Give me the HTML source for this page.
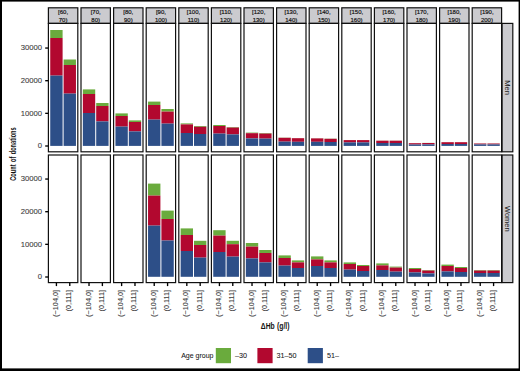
<!DOCTYPE html>
<html lang="en"><head><meta charset="utf-8"><title>Count of donations by ΔHb</title>
<style>html,body{margin:0;padding:0;background:#fff}body{width:520px;height:371px;overflow:hidden}svg{display:block}svg text{stroke:#111;stroke-width:.18px}svg text.lg{fill:#151515;stroke:#151515;stroke-width:.06px}svg text.rs{fill:#1a1a1a;stroke:none}svg text.ax{fill:#3a3a3a;stroke:#3a3a3a;stroke-width:.08px}</style></head>
<body>
<svg width="520" height="371" viewBox="0 0 520 371" font-family="'Liberation Sans', Arial, Helvetica, sans-serif" fill="#111">
<rect x="0" y="0" width="520" height="371" fill="#fff"/>
<rect x="48.4" y="7.8" width="29.4" height="15.6" fill="#cbcbcf" stroke="#111" stroke-width="1.2"/>
<text x="63.1" y="14.2" font-size="6.0" text-anchor="middle">[60,</text>
<text x="63.1" y="21.7" font-size="6.0" text-anchor="middle">70)</text>
<rect x="50.24" y="30" width="12.36" height="8" fill="#6aab3d"/>
<rect x="50.24" y="38" width="12.36" height="37.6" fill="#b2082f"/>
<rect x="50.24" y="75.6" width="12.36" height="70.3" fill="#2d4f88"/>
<rect x="63.6" y="59.5" width="12.36" height="5.5" fill="#6aab3d"/>
<rect x="63.6" y="65" width="12.36" height="28.6" fill="#b2082f"/>
<rect x="63.6" y="93.6" width="12.36" height="52.3" fill="#2d4f88"/>
<rect x="48.4" y="23.4" width="29.4" height="128.4" fill="none" stroke="#111" stroke-width="1.2"/>
<rect x="48.4" y="155" width="29.4" height="127.6" fill="none" stroke="#111" stroke-width="1.2"/>
<line x1="56.42" x2="56.42" y1="282.6" y2="286.1" stroke="#000" stroke-width="1.35"/>
<text transform="translate(57.92,289.9) rotate(-90)" font-size="7.3" text-anchor="end" class="ax">(−104,0]</text>
<line x1="69.78" x2="69.78" y1="282.6" y2="286.1" stroke="#000" stroke-width="1.35"/>
<text transform="translate(71.28,289.9) rotate(-90)" font-size="7.3" text-anchor="end" class="ax">(0,111]</text>
<rect x="81" y="7.8" width="29.4" height="15.6" fill="#cbcbcf" stroke="#111" stroke-width="1.2"/>
<text x="95.7" y="14.2" font-size="6.0" text-anchor="middle">[70,</text>
<text x="95.7" y="21.7" font-size="6.0" text-anchor="middle">80)</text>
<rect x="82.84" y="89.4" width="12.36" height="4.6" fill="#6aab3d"/>
<rect x="82.84" y="94" width="12.36" height="19" fill="#b2082f"/>
<rect x="82.84" y="113" width="12.36" height="32.9" fill="#2d4f88"/>
<rect x="96.2" y="103" width="12.36" height="3" fill="#6aab3d"/>
<rect x="96.2" y="106" width="12.36" height="15.4" fill="#b2082f"/>
<rect x="96.2" y="121.4" width="12.36" height="24.5" fill="#2d4f88"/>
<rect x="81" y="23.4" width="29.4" height="128.4" fill="none" stroke="#111" stroke-width="1.2"/>
<rect x="81" y="155" width="29.4" height="127.6" fill="none" stroke="#111" stroke-width="1.2"/>
<line x1="89.02" x2="89.02" y1="282.6" y2="286.1" stroke="#000" stroke-width="1.35"/>
<text transform="translate(90.52,289.9) rotate(-90)" font-size="7.3" text-anchor="end" class="ax">(−104,0]</text>
<line x1="102.38" x2="102.38" y1="282.6" y2="286.1" stroke="#000" stroke-width="1.35"/>
<text transform="translate(103.88,289.9) rotate(-90)" font-size="7.3" text-anchor="end" class="ax">(0,111]</text>
<rect x="113.6" y="7.8" width="29.4" height="15.6" fill="#cbcbcf" stroke="#111" stroke-width="1.2"/>
<text x="128.3" y="14.2" font-size="6.0" text-anchor="middle">[80,</text>
<text x="128.3" y="21.7" font-size="6.0" text-anchor="middle">90)</text>
<rect x="115.44" y="113.4" width="12.36" height="2.6" fill="#6aab3d"/>
<rect x="115.44" y="116" width="12.36" height="10.6" fill="#b2082f"/>
<rect x="115.44" y="126.6" width="12.36" height="19.3" fill="#2d4f88"/>
<rect x="128.8" y="120.4" width="12.36" height="1.6" fill="#6aab3d"/>
<rect x="128.8" y="122" width="12.36" height="9.4" fill="#b2082f"/>
<rect x="128.8" y="131.4" width="12.36" height="14.5" fill="#2d4f88"/>
<rect x="113.6" y="23.4" width="29.4" height="128.4" fill="none" stroke="#111" stroke-width="1.2"/>
<rect x="113.6" y="155" width="29.4" height="127.6" fill="none" stroke="#111" stroke-width="1.2"/>
<line x1="121.62" x2="121.62" y1="282.6" y2="286.1" stroke="#000" stroke-width="1.35"/>
<text transform="translate(123.12,289.9) rotate(-90)" font-size="7.3" text-anchor="end" class="ax">(−104,0]</text>
<line x1="134.98" x2="134.98" y1="282.6" y2="286.1" stroke="#000" stroke-width="1.35"/>
<text transform="translate(136.48,289.9) rotate(-90)" font-size="7.3" text-anchor="end" class="ax">(0,111]</text>
<rect x="146.2" y="7.8" width="29.4" height="15.6" fill="#cbcbcf" stroke="#111" stroke-width="1.2"/>
<text x="160.9" y="14.2" font-size="6.0" text-anchor="middle">[90,</text>
<text x="160.9" y="21.7" font-size="6.0" text-anchor="middle">100)</text>
<rect x="148.04" y="101.6" width="12.36" height="3.4" fill="#6aab3d"/>
<rect x="148.04" y="105" width="12.36" height="14.6" fill="#b2082f"/>
<rect x="148.04" y="119.6" width="12.36" height="26.3" fill="#2d4f88"/>
<rect x="161.4" y="109" width="12.36" height="2.6" fill="#6aab3d"/>
<rect x="161.4" y="111.6" width="12.36" height="12" fill="#b2082f"/>
<rect x="161.4" y="123.6" width="12.36" height="22.3" fill="#2d4f88"/>
<rect x="148.04" y="183.6" width="12.36" height="12" fill="#6aab3d"/>
<rect x="148.04" y="195.6" width="12.36" height="30" fill="#b2082f"/>
<rect x="148.04" y="225.6" width="12.36" height="51.2" fill="#2d4f88"/>
<rect x="161.4" y="210.6" width="12.36" height="8.4" fill="#6aab3d"/>
<rect x="161.4" y="219" width="12.36" height="21.5" fill="#b2082f"/>
<rect x="161.4" y="240.5" width="12.36" height="36.3" fill="#2d4f88"/>
<rect x="146.2" y="23.4" width="29.4" height="128.4" fill="none" stroke="#111" stroke-width="1.2"/>
<rect x="146.2" y="155" width="29.4" height="127.6" fill="none" stroke="#111" stroke-width="1.2"/>
<line x1="154.22" x2="154.22" y1="282.6" y2="286.1" stroke="#000" stroke-width="1.35"/>
<text transform="translate(155.72,289.9) rotate(-90)" font-size="7.3" text-anchor="end" class="ax">(−104,0]</text>
<line x1="167.58" x2="167.58" y1="282.6" y2="286.1" stroke="#000" stroke-width="1.35"/>
<text transform="translate(169.08,289.9) rotate(-90)" font-size="7.3" text-anchor="end" class="ax">(0,111]</text>
<rect x="178.8" y="7.8" width="29.4" height="15.6" fill="#cbcbcf" stroke="#111" stroke-width="1.2"/>
<text x="193.5" y="14.2" font-size="6.0" text-anchor="middle">[100,</text>
<text x="193.5" y="21.7" font-size="6.0" text-anchor="middle">110)</text>
<rect x="180.64" y="123.4" width="12.36" height="1" fill="#6aab3d"/>
<rect x="180.64" y="124.4" width="12.36" height="8.6" fill="#b2082f"/>
<rect x="180.64" y="133" width="12.36" height="12.9" fill="#2d4f88"/>
<rect x="194" y="126" width="12.36" height="0.8" fill="#6aab3d"/>
<rect x="194" y="126.8" width="12.36" height="7.2" fill="#b2082f"/>
<rect x="194" y="134" width="12.36" height="11.9" fill="#2d4f88"/>
<rect x="180.64" y="228.4" width="12.36" height="6.6" fill="#6aab3d"/>
<rect x="180.64" y="235" width="12.36" height="16" fill="#b2082f"/>
<rect x="180.64" y="251" width="12.36" height="25.8" fill="#2d4f88"/>
<rect x="194" y="240.8" width="12.36" height="4.2" fill="#6aab3d"/>
<rect x="194" y="245" width="12.36" height="12.6" fill="#b2082f"/>
<rect x="194" y="257.6" width="12.36" height="19.2" fill="#2d4f88"/>
<rect x="178.8" y="23.4" width="29.4" height="128.4" fill="none" stroke="#111" stroke-width="1.2"/>
<rect x="178.8" y="155" width="29.4" height="127.6" fill="none" stroke="#111" stroke-width="1.2"/>
<line x1="186.82" x2="186.82" y1="282.6" y2="286.1" stroke="#000" stroke-width="1.35"/>
<text transform="translate(188.32,289.9) rotate(-90)" font-size="7.3" text-anchor="end" class="ax">(−104,0]</text>
<line x1="200.18" x2="200.18" y1="282.6" y2="286.1" stroke="#000" stroke-width="1.35"/>
<text transform="translate(201.68,289.9) rotate(-90)" font-size="7.3" text-anchor="end" class="ax">(0,111]</text>
<rect x="211.4" y="7.8" width="29.4" height="15.6" fill="#cbcbcf" stroke="#111" stroke-width="1.2"/>
<text x="226.1" y="14.2" font-size="6.0" text-anchor="middle">[110,</text>
<text x="226.1" y="21.7" font-size="6.0" text-anchor="middle">120)</text>
<rect x="213.24" y="125" width="12.36" height="1" fill="#6aab3d"/>
<rect x="213.24" y="126" width="12.36" height="7.6" fill="#b2082f"/>
<rect x="213.24" y="133.6" width="12.36" height="12.3" fill="#2d4f88"/>
<rect x="226.6" y="127" width="12.36" height="0.6" fill="#6aab3d"/>
<rect x="226.6" y="127.6" width="12.36" height="6.8" fill="#b2082f"/>
<rect x="226.6" y="134.4" width="12.36" height="11.5" fill="#2d4f88"/>
<rect x="213.24" y="230.2" width="12.36" height="5.4" fill="#6aab3d"/>
<rect x="213.24" y="235.6" width="12.36" height="16.4" fill="#b2082f"/>
<rect x="213.24" y="252" width="12.36" height="24.8" fill="#2d4f88"/>
<rect x="226.6" y="240.8" width="12.36" height="3.4" fill="#6aab3d"/>
<rect x="226.6" y="244.2" width="12.36" height="12.4" fill="#b2082f"/>
<rect x="226.6" y="256.6" width="12.36" height="20.2" fill="#2d4f88"/>
<rect x="211.4" y="23.4" width="29.4" height="128.4" fill="none" stroke="#111" stroke-width="1.2"/>
<rect x="211.4" y="155" width="29.4" height="127.6" fill="none" stroke="#111" stroke-width="1.2"/>
<line x1="219.42" x2="219.42" y1="282.6" y2="286.1" stroke="#000" stroke-width="1.35"/>
<text transform="translate(220.92,289.9) rotate(-90)" font-size="7.3" text-anchor="end" class="ax">(−104,0]</text>
<line x1="232.78" x2="232.78" y1="282.6" y2="286.1" stroke="#000" stroke-width="1.35"/>
<text transform="translate(234.28,289.9) rotate(-90)" font-size="7.3" text-anchor="end" class="ax">(0,111]</text>
<rect x="244" y="7.8" width="29.4" height="15.6" fill="#cbcbcf" stroke="#111" stroke-width="1.2"/>
<text x="258.7" y="14.2" font-size="6.0" text-anchor="middle">[120,</text>
<text x="258.7" y="21.7" font-size="6.0" text-anchor="middle">130)</text>
<rect x="245.84" y="132.6" width="12.36" height="0.6" fill="#6aab3d"/>
<rect x="245.84" y="133.2" width="12.36" height="5.2" fill="#b2082f"/>
<rect x="245.84" y="138.4" width="12.36" height="7.5" fill="#2d4f88"/>
<rect x="259.2" y="133" width="12.36" height="0.6" fill="#6aab3d"/>
<rect x="259.2" y="133.6" width="12.36" height="5" fill="#b2082f"/>
<rect x="259.2" y="138.6" width="12.36" height="7.3" fill="#2d4f88"/>
<rect x="245.84" y="243" width="12.36" height="3.6" fill="#6aab3d"/>
<rect x="245.84" y="246.6" width="12.36" height="11.8" fill="#b2082f"/>
<rect x="245.84" y="258.4" width="12.36" height="18.4" fill="#2d4f88"/>
<rect x="259.2" y="250" width="12.36" height="3" fill="#6aab3d"/>
<rect x="259.2" y="253" width="12.36" height="9.4" fill="#b2082f"/>
<rect x="259.2" y="262.4" width="12.36" height="14.4" fill="#2d4f88"/>
<rect x="244" y="23.4" width="29.4" height="128.4" fill="none" stroke="#111" stroke-width="1.2"/>
<rect x="244" y="155" width="29.4" height="127.6" fill="none" stroke="#111" stroke-width="1.2"/>
<line x1="252.02" x2="252.02" y1="282.6" y2="286.1" stroke="#000" stroke-width="1.35"/>
<text transform="translate(253.52,289.9) rotate(-90)" font-size="7.3" text-anchor="end" class="ax">(−104,0]</text>
<line x1="265.38" x2="265.38" y1="282.6" y2="286.1" stroke="#000" stroke-width="1.35"/>
<text transform="translate(266.88,289.9) rotate(-90)" font-size="7.3" text-anchor="end" class="ax">(0,111]</text>
<rect x="276.6" y="7.8" width="29.4" height="15.6" fill="#cbcbcf" stroke="#111" stroke-width="1.2"/>
<text x="291.3" y="14.2" font-size="6.0" text-anchor="middle">[130,</text>
<text x="291.3" y="21.7" font-size="6.0" text-anchor="middle">140)</text>
<rect x="278.44" y="137.6" width="12.36" height="0.2" fill="#6aab3d"/>
<rect x="278.44" y="137.8" width="12.36" height="3.8" fill="#b2082f"/>
<rect x="278.44" y="141.6" width="12.36" height="4.3" fill="#2d4f88"/>
<rect x="291.8" y="138" width="12.36" height="0.2" fill="#6aab3d"/>
<rect x="291.8" y="138.2" width="12.36" height="3.6" fill="#b2082f"/>
<rect x="291.8" y="141.8" width="12.36" height="4.1" fill="#2d4f88"/>
<rect x="278.44" y="255.4" width="12.36" height="2.6" fill="#6aab3d"/>
<rect x="278.44" y="258" width="12.36" height="7.6" fill="#b2082f"/>
<rect x="278.44" y="265.6" width="12.36" height="11.2" fill="#2d4f88"/>
<rect x="291.8" y="260.4" width="12.36" height="2" fill="#6aab3d"/>
<rect x="291.8" y="262.4" width="12.36" height="5.6" fill="#b2082f"/>
<rect x="291.8" y="268" width="12.36" height="8.8" fill="#2d4f88"/>
<rect x="276.6" y="23.4" width="29.4" height="128.4" fill="none" stroke="#111" stroke-width="1.2"/>
<rect x="276.6" y="155" width="29.4" height="127.6" fill="none" stroke="#111" stroke-width="1.2"/>
<line x1="284.62" x2="284.62" y1="282.6" y2="286.1" stroke="#000" stroke-width="1.35"/>
<text transform="translate(286.12,289.9) rotate(-90)" font-size="7.3" text-anchor="end" class="ax">(−104,0]</text>
<line x1="297.98" x2="297.98" y1="282.6" y2="286.1" stroke="#000" stroke-width="1.35"/>
<text transform="translate(299.48,289.9) rotate(-90)" font-size="7.3" text-anchor="end" class="ax">(0,111]</text>
<rect x="309.2" y="7.8" width="29.4" height="15.6" fill="#cbcbcf" stroke="#111" stroke-width="1.2"/>
<text x="323.9" y="14.2" font-size="6.0" text-anchor="middle">[140,</text>
<text x="323.9" y="21.7" font-size="6.0" text-anchor="middle">150)</text>
<rect x="311.04" y="138.2" width="12.36" height="0.2" fill="#6aab3d"/>
<rect x="311.04" y="138.4" width="12.36" height="3.4" fill="#b2082f"/>
<rect x="311.04" y="141.8" width="12.36" height="4.1" fill="#2d4f88"/>
<rect x="324.4" y="138.6" width="12.36" height="0.2" fill="#6aab3d"/>
<rect x="324.4" y="138.8" width="12.36" height="3.2" fill="#b2082f"/>
<rect x="324.4" y="142" width="12.36" height="3.9" fill="#2d4f88"/>
<rect x="311.04" y="256.4" width="12.36" height="3" fill="#6aab3d"/>
<rect x="311.04" y="259.4" width="12.36" height="6.6" fill="#b2082f"/>
<rect x="311.04" y="266" width="12.36" height="10.8" fill="#2d4f88"/>
<rect x="324.4" y="260.4" width="12.36" height="2" fill="#6aab3d"/>
<rect x="324.4" y="262.4" width="12.36" height="5.6" fill="#b2082f"/>
<rect x="324.4" y="268" width="12.36" height="8.8" fill="#2d4f88"/>
<rect x="309.2" y="23.4" width="29.4" height="128.4" fill="none" stroke="#111" stroke-width="1.2"/>
<rect x="309.2" y="155" width="29.4" height="127.6" fill="none" stroke="#111" stroke-width="1.2"/>
<line x1="317.22" x2="317.22" y1="282.6" y2="286.1" stroke="#000" stroke-width="1.35"/>
<text transform="translate(318.72,289.9) rotate(-90)" font-size="7.3" text-anchor="end" class="ax">(−104,0]</text>
<line x1="330.58" x2="330.58" y1="282.6" y2="286.1" stroke="#000" stroke-width="1.35"/>
<text transform="translate(332.08,289.9) rotate(-90)" font-size="7.3" text-anchor="end" class="ax">(0,111]</text>
<rect x="341.8" y="7.8" width="29.4" height="15.6" fill="#cbcbcf" stroke="#111" stroke-width="1.2"/>
<text x="356.5" y="14.2" font-size="6.0" text-anchor="middle">[150,</text>
<text x="356.5" y="21.7" font-size="6.0" text-anchor="middle">160)</text>
<rect x="343.64" y="140" width="12.36" height="0.1" fill="#6aab3d"/>
<rect x="343.64" y="140.1" width="12.36" height="2.3" fill="#b2082f"/>
<rect x="343.64" y="142.4" width="12.36" height="3.5" fill="#2d4f88"/>
<rect x="357" y="140" width="12.36" height="0.1" fill="#6aab3d"/>
<rect x="357" y="140.1" width="12.36" height="2.3" fill="#b2082f"/>
<rect x="357" y="142.4" width="12.36" height="3.5" fill="#2d4f88"/>
<rect x="343.64" y="262.4" width="12.36" height="1.6" fill="#6aab3d"/>
<rect x="343.64" y="264" width="12.36" height="5.6" fill="#b2082f"/>
<rect x="343.64" y="269.6" width="12.36" height="7.2" fill="#2d4f88"/>
<rect x="357" y="265" width="12.36" height="1" fill="#6aab3d"/>
<rect x="357" y="266" width="12.36" height="5" fill="#b2082f"/>
<rect x="357" y="271" width="12.36" height="5.8" fill="#2d4f88"/>
<rect x="341.8" y="23.4" width="29.4" height="128.4" fill="none" stroke="#111" stroke-width="1.2"/>
<rect x="341.8" y="155" width="29.4" height="127.6" fill="none" stroke="#111" stroke-width="1.2"/>
<line x1="349.82" x2="349.82" y1="282.6" y2="286.1" stroke="#000" stroke-width="1.35"/>
<text transform="translate(351.32,289.9) rotate(-90)" font-size="7.3" text-anchor="end" class="ax">(−104,0]</text>
<line x1="363.18" x2="363.18" y1="282.6" y2="286.1" stroke="#000" stroke-width="1.35"/>
<text transform="translate(364.68,289.9) rotate(-90)" font-size="7.3" text-anchor="end" class="ax">(0,111]</text>
<rect x="374.4" y="7.8" width="29.4" height="15.6" fill="#cbcbcf" stroke="#111" stroke-width="1.2"/>
<text x="389.1" y="14.2" font-size="6.0" text-anchor="middle">[160,</text>
<text x="389.1" y="21.7" font-size="6.0" text-anchor="middle">170)</text>
<rect x="376.24" y="140.6" width="12.36" height="0.1" fill="#6aab3d"/>
<rect x="376.24" y="140.7" width="12.36" height="2.3" fill="#b2082f"/>
<rect x="376.24" y="143" width="12.36" height="2.9" fill="#2d4f88"/>
<rect x="389.6" y="140.6" width="12.36" height="0.1" fill="#6aab3d"/>
<rect x="389.6" y="140.7" width="12.36" height="2.3" fill="#b2082f"/>
<rect x="389.6" y="143" width="12.36" height="2.9" fill="#2d4f88"/>
<rect x="376.24" y="263.4" width="12.36" height="2" fill="#6aab3d"/>
<rect x="376.24" y="265.4" width="12.36" height="4.6" fill="#b2082f"/>
<rect x="376.24" y="270" width="12.36" height="6.8" fill="#2d4f88"/>
<rect x="389.6" y="266.6" width="12.36" height="1" fill="#6aab3d"/>
<rect x="389.6" y="267.6" width="12.36" height="4" fill="#b2082f"/>
<rect x="389.6" y="271.6" width="12.36" height="5.2" fill="#2d4f88"/>
<rect x="374.4" y="23.4" width="29.4" height="128.4" fill="none" stroke="#111" stroke-width="1.2"/>
<rect x="374.4" y="155" width="29.4" height="127.6" fill="none" stroke="#111" stroke-width="1.2"/>
<line x1="382.42" x2="382.42" y1="282.6" y2="286.1" stroke="#000" stroke-width="1.35"/>
<text transform="translate(383.92,289.9) rotate(-90)" font-size="7.3" text-anchor="end" class="ax">(−104,0]</text>
<line x1="395.78" x2="395.78" y1="282.6" y2="286.1" stroke="#000" stroke-width="1.35"/>
<text transform="translate(397.28,289.9) rotate(-90)" font-size="7.3" text-anchor="end" class="ax">(0,111]</text>
<rect x="407" y="7.8" width="29.4" height="15.6" fill="#cbcbcf" stroke="#111" stroke-width="1.2"/>
<text x="421.7" y="14.2" font-size="6.0" text-anchor="middle">[170,</text>
<text x="421.7" y="21.7" font-size="6.0" text-anchor="middle">180)</text>
<rect x="408.84" y="143.1" width="12.36" height="0.1" fill="#6aab3d"/>
<rect x="408.84" y="143.2" width="12.36" height="1.3" fill="#b2082f"/>
<rect x="408.84" y="144.5" width="12.36" height="1.4" fill="#2d4f88"/>
<rect x="422.2" y="142.9" width="12.36" height="0.1" fill="#6aab3d"/>
<rect x="422.2" y="143" width="12.36" height="1.4" fill="#b2082f"/>
<rect x="422.2" y="144.4" width="12.36" height="1.5" fill="#2d4f88"/>
<rect x="408.84" y="268" width="12.36" height="1" fill="#6aab3d"/>
<rect x="408.84" y="269" width="12.36" height="3.4" fill="#b2082f"/>
<rect x="408.84" y="272.4" width="12.36" height="4.4" fill="#2d4f88"/>
<rect x="422.2" y="270" width="12.36" height="0.6" fill="#6aab3d"/>
<rect x="422.2" y="270.6" width="12.36" height="2.8" fill="#b2082f"/>
<rect x="422.2" y="273.4" width="12.36" height="3.4" fill="#2d4f88"/>
<rect x="407" y="23.4" width="29.4" height="128.4" fill="none" stroke="#111" stroke-width="1.2"/>
<rect x="407" y="155" width="29.4" height="127.6" fill="none" stroke="#111" stroke-width="1.2"/>
<line x1="415.02" x2="415.02" y1="282.6" y2="286.1" stroke="#000" stroke-width="1.35"/>
<text transform="translate(416.52,289.9) rotate(-90)" font-size="7.3" text-anchor="end" class="ax">(−104,0]</text>
<line x1="428.38" x2="428.38" y1="282.6" y2="286.1" stroke="#000" stroke-width="1.35"/>
<text transform="translate(429.88,289.9) rotate(-90)" font-size="7.3" text-anchor="end" class="ax">(0,111]</text>
<rect x="439.6" y="7.8" width="29.4" height="15.6" fill="#cbcbcf" stroke="#111" stroke-width="1.2"/>
<text x="454.3" y="14.2" font-size="6.0" text-anchor="middle">[180,</text>
<text x="454.3" y="21.7" font-size="6.0" text-anchor="middle">190)</text>
<rect x="441.44" y="142.1" width="12.36" height="0.1" fill="#6aab3d"/>
<rect x="441.44" y="142.2" width="12.36" height="1.8" fill="#b2082f"/>
<rect x="441.44" y="144" width="12.36" height="1.9" fill="#2d4f88"/>
<rect x="454.8" y="142.1" width="12.36" height="0.1" fill="#6aab3d"/>
<rect x="454.8" y="142.2" width="12.36" height="1.8" fill="#b2082f"/>
<rect x="454.8" y="144" width="12.36" height="1.9" fill="#2d4f88"/>
<rect x="441.44" y="264.6" width="12.36" height="1.4" fill="#6aab3d"/>
<rect x="441.44" y="266" width="12.36" height="5.4" fill="#b2082f"/>
<rect x="441.44" y="271.4" width="12.36" height="5.4" fill="#2d4f88"/>
<rect x="454.8" y="267" width="12.36" height="1" fill="#6aab3d"/>
<rect x="454.8" y="268" width="12.36" height="4" fill="#b2082f"/>
<rect x="454.8" y="272" width="12.36" height="4.8" fill="#2d4f88"/>
<rect x="439.6" y="23.4" width="29.4" height="128.4" fill="none" stroke="#111" stroke-width="1.2"/>
<rect x="439.6" y="155" width="29.4" height="127.6" fill="none" stroke="#111" stroke-width="1.2"/>
<line x1="447.62" x2="447.62" y1="282.6" y2="286.1" stroke="#000" stroke-width="1.35"/>
<text transform="translate(449.12,289.9) rotate(-90)" font-size="7.3" text-anchor="end" class="ax">(−104,0]</text>
<line x1="460.98" x2="460.98" y1="282.6" y2="286.1" stroke="#000" stroke-width="1.35"/>
<text transform="translate(462.48,289.9) rotate(-90)" font-size="7.3" text-anchor="end" class="ax">(0,111]</text>
<rect x="472.2" y="7.8" width="29.4" height="15.6" fill="#cbcbcf" stroke="#111" stroke-width="1.2"/>
<text x="486.9" y="14.2" font-size="6.0" text-anchor="middle">[190,</text>
<text x="486.9" y="21.7" font-size="6.0" text-anchor="middle">200)</text>
<rect x="474.04" y="143.4" width="12.36" height="0.1" fill="#6aab3d"/>
<rect x="474.04" y="143.5" width="12.36" height="0.9" fill="#b2082f"/>
<rect x="474.04" y="144.4" width="12.36" height="1.5" fill="#2d4f88"/>
<rect x="487.4" y="143.4" width="12.36" height="0.1" fill="#6aab3d"/>
<rect x="487.4" y="143.5" width="12.36" height="0.9" fill="#b2082f"/>
<rect x="487.4" y="144.4" width="12.36" height="1.5" fill="#2d4f88"/>
<rect x="474.04" y="270" width="12.36" height="0.6" fill="#6aab3d"/>
<rect x="474.04" y="270.6" width="12.36" height="2.4" fill="#b2082f"/>
<rect x="474.04" y="273" width="12.36" height="3.8" fill="#2d4f88"/>
<rect x="487.4" y="270" width="12.36" height="0.6" fill="#6aab3d"/>
<rect x="487.4" y="270.6" width="12.36" height="2.4" fill="#b2082f"/>
<rect x="487.4" y="273" width="12.36" height="3.8" fill="#2d4f88"/>
<rect x="472.2" y="23.4" width="29.4" height="128.4" fill="none" stroke="#111" stroke-width="1.2"/>
<rect x="472.2" y="155" width="29.4" height="127.6" fill="none" stroke="#111" stroke-width="1.2"/>
<line x1="480.22" x2="480.22" y1="282.6" y2="286.1" stroke="#000" stroke-width="1.35"/>
<text transform="translate(481.72,289.9) rotate(-90)" font-size="7.3" text-anchor="end" class="ax">(−104,0]</text>
<line x1="493.58" x2="493.58" y1="282.6" y2="286.1" stroke="#000" stroke-width="1.35"/>
<text transform="translate(495.08,289.9) rotate(-90)" font-size="7.3" text-anchor="end" class="ax">(0,111]</text>
<rect x="502.1" y="23.4" width="10.7" height="128.4" fill="#cbcbcf" stroke="#111" stroke-width="1.2"/>
<text transform="translate(505.4,87.6) rotate(90)" font-size="7.5" text-anchor="middle" class="rs">Men</text>
<rect x="502.1" y="155" width="10.7" height="127.6" fill="#cbcbcf" stroke="#111" stroke-width="1.2"/>
<text transform="translate(505.4,218.8) rotate(90)" font-size="7.5" text-anchor="middle" class="rs">Women</text>
<line x1="45.2" x2="48.4" y1="146" y2="146" stroke="#000" stroke-width="1.35"/>
<text x="42.1" y="148.4" font-size="7.7" text-anchor="end" class="ax">0</text>
<line x1="45.2" x2="48.4" y1="113.35" y2="113.35" stroke="#000" stroke-width="1.35"/>
<text x="42.1" y="115.75" font-size="7.7" text-anchor="end" class="ax">10000</text>
<line x1="45.2" x2="48.4" y1="80.7" y2="80.7" stroke="#000" stroke-width="1.35"/>
<text x="42.1" y="83.1" font-size="7.7" text-anchor="end" class="ax">20000</text>
<line x1="45.2" x2="48.4" y1="48.05" y2="48.05" stroke="#000" stroke-width="1.35"/>
<text x="42.1" y="50.45" font-size="7.7" text-anchor="end" class="ax">30000</text>
<line x1="45.2" x2="48.4" y1="277" y2="277" stroke="#000" stroke-width="1.35"/>
<text x="42.1" y="279.4" font-size="7.7" text-anchor="end" class="ax">0</text>
<line x1="45.2" x2="48.4" y1="244.35" y2="244.35" stroke="#000" stroke-width="1.35"/>
<text x="42.1" y="246.75" font-size="7.7" text-anchor="end" class="ax">10000</text>
<line x1="45.2" x2="48.4" y1="211.7" y2="211.7" stroke="#000" stroke-width="1.35"/>
<text x="42.1" y="214.1" font-size="7.7" text-anchor="end" class="ax">20000</text>
<line x1="45.2" x2="48.4" y1="179.05" y2="179.05" stroke="#000" stroke-width="1.35"/>
<text x="42.1" y="181.45" font-size="7.7" text-anchor="end" class="ax">30000</text>
<text transform="translate(16.1,154) rotate(-90) scale(0.66,1)" font-size="8.6" font-weight="bold" text-anchor="middle" word-spacing="1.2" fill="#111" style="stroke:none">Count of donations</text>
<text transform="translate(275.1,328.5) scale(0.76,1)" font-size="8.9" font-weight="bold" text-anchor="middle" word-spacing="0.6" fill="#111" style="stroke:none">ΔHb (g/l)</text>
<text x="181.2" y="357.6" font-size="7.0" class="lg">Age group</text>
<rect x="215.8" y="348" width="15.2" height="15.2" fill="#6aab3d"/>
<text x="235" y="357.7" font-size="7.2" class="lg">–30</text>
<rect x="257.4" y="348" width="15.2" height="15.2" fill="#b2082f"/>
<text x="276.6" y="357.7" font-size="7.2" class="lg">31–50</text>
<rect x="307.7" y="348" width="15.2" height="15.2" fill="#2d4f88"/>
<text x="326.9" y="357.7" font-size="7.2" class="lg">51–</text>
<rect x="0" y="0" width="520" height="1.6" fill="#000"/>
<rect x="0" y="368.4" width="520" height="2.6" fill="#000"/>
<rect x="0" y="0" width="2" height="371" fill="#000"/>
<rect x="518.6" y="0" width="1.4" height="371" fill="#000"/>
</svg>
</body></html>
